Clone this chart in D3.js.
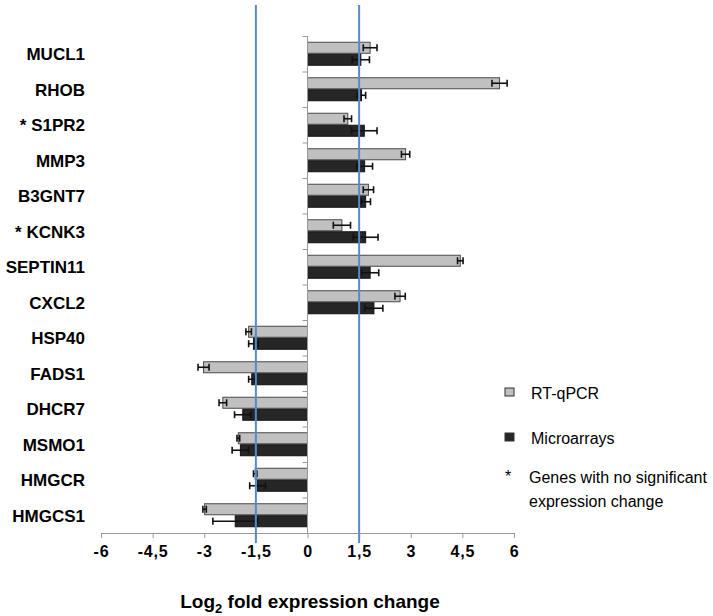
<!DOCTYPE html>
<html><head><meta charset="utf-8">
<script src="https://cdn.jsdelivr.net/npm/d3@7"></script>
<style>body{margin:0;background:#fff}svg{display:block}text{font-family:"Liberation Sans",Arial,sans-serif}</style>
</head><body>
<svg id="c" width="713" height="616"></svg>
<script>
const genes = ["MUCL1","RHOB","S1PR2","MMP3","B3GNT7","KCNK3","SEPTIN11","CXCL2","HSP40","FADS1","DHCR7","MSMO1","HMGCR","HMGCS1"];
const notSignificant = ["S1PR2","KCNK3"];
const rtqpcr = [1.82,5.58,1.17,2.85,1.77,1.0,4.44,2.69,-1.71,-3.02,-2.46,-2.01,-1.52,-2.99];
const rtqpcrErr = [0.2,0.22,0.11,0.12,0.15,0.25,0.08,0.15,0.08,0.16,0.11,0.04,0.05,0.05];
const micro = [1.55,1.57,1.65,1.66,1.69,1.69,1.82,1.93,-1.57,-1.62,-1.88,-1.95,-1.45,-2.1];
const microErr = [0.25,0.12,0.37,0.23,0.14,0.36,0.25,0.26,0.14,0.09,0.24,0.24,0.23,0.65];
const xTicks = [-6,-4.5,-3,-1.5,0,1.5,3,4.5,6];
const thresholds = [-1.5,1.5];
const seriesNames = ["RT-qPCR","Microarrays"];
const seriesFill = ["#c0c0c0","#262626"];

const svg = d3.select("#c");
const x = d3.scaleLinear().domain([-6,6]).range([101,514]);
const y = d3.scaleBand().domain(genes).range([36,533]);
const axisY = 533;

// bars
const barH = 11, gap = 1;
const off = (y.bandwidth() - (2*barH+gap))/2;
const series = [
  {vals: rtqpcr, errs: rtqpcrErr, fill: seriesFill[0], stroke:"#4a4a4a", dy: off},
  {vals: micro, errs: microErr, fill: seriesFill[1], stroke:"#111", dy: off+barH+gap}
];
series.forEach(s=>{
  const g = svg.append("g");
  genes.forEach((gname,i)=>{
    const v = s.vals[i];
    const yy = y(gname)+s.dy;
    g.append("rect").attr("x",Math.min(x(0),x(v))).attr("y",yy)
      .attr("width",Math.abs(x(v)-x(0))).attr("height",barH)
      .attr("fill",s.fill).attr("stroke",s.stroke).attr("stroke-width",1);
  });
});
// error bars
series.forEach(s=>{
  const g = svg.append("g").attr("stroke","#111").attr("stroke-width",1.6);
  genes.forEach((gname,i)=>{
    const v = s.vals[i], e = s.errs[i];
    const cy = y(gname)+s.dy+barH/2;
    const x1 = x(v-e), x2 = x(v+e);
    g.append("line").attr("x1",x1).attr("x2",x2).attr("y1",cy).attr("y2",cy);
    g.append("line").attr("x1",x1).attr("x2",x1).attr("y1",cy-3.5).attr("y2",cy+3.5);
    g.append("line").attr("x1",x2).attr("x2",x2).attr("y1",cy-3.5).attr("y2",cy+3.5);
  });
});

// y axis line and ticks at band boundaries
svg.append("line").attr("x1",x(0)).attr("x2",x(0)).attr("y1",36).attr("y2",axisY)
  .attr("stroke","#999").attr("stroke-width",1);
genes.forEach(gname=>{
  svg.append("line").attr("x1",x(0)-5).attr("x2",x(0)).attr("y1",y(gname)+0.5).attr("y2",y(gname)+0.5)
    .attr("stroke","#999");
});

// x axis
const xa = svg.append("g").attr("transform",`translate(0,${axisY})`)
  .call(d3.axisBottom(x).tickValues(xTicks).tickSize(5).tickPadding(8)
    .tickFormat(d=>String(d).replace(".",",")));
xa.select(".domain").attr("stroke","#999");
xa.selectAll(".tick line").attr("stroke","#999");
xa.selectAll(".tick text").attr("fill","#000").attr("font-size","16px").attr("font-weight","bold")
  .attr("letter-spacing","0.8px")
  .attr("font-family","'Liberation Sans',Arial,sans-serif");

// threshold lines
thresholds.forEach(t=>{
  svg.append("line").attr("x1",x(t)).attr("x2",x(t)).attr("y1",5).attr("y2",543)
    .attr("stroke","#5a8ac6").attr("stroke-width",2);
});

// gene labels
genes.forEach(gname=>{
  svg.append("text").attr("x",85).attr("y",y(gname)+y.bandwidth()/2+2)
    .attr("text-anchor","end").attr("dominant-baseline","middle")
    .attr("font-size","17px").attr("font-weight","bold").attr("fill","#000")
    .text((notSignificant.includes(gname)?"* ":"")+gname);
});

// axis title
const t = svg.append("text").attr("x",310).attr("y",608).attr("text-anchor","middle")
  .attr("font-size","19px").attr("font-weight","bold").attr("fill","#000");
t.append("tspan").text("Log");
t.append("tspan").attr("font-size","13px").attr("dy",5).text("2");
t.append("tspan").attr("dy",-5).text(" fold expression change");

// legend
const lg = svg.append("g");
[[0,392],[1,437]].forEach(([i,yy])=>{
  lg.append("rect").attr("x",505).attr("y",yy-4).attr("width",9).attr("height",8)
    .attr("fill",seriesFill[i]).attr("stroke","#333").attr("stroke-width",1);
  lg.append("text").attr("x",531).attr("y",yy+7).attr("font-size","16px").attr("fill","#000").text(seriesNames[i]);
});
lg.append("text").attr("x",505).attr("y",482).attr("font-size","16px").attr("fill","#000").text("*");
lg.append("text").attr("x",529).attr("y",483).attr("font-size","16px").attr("fill","#000").text("Genes with no significant");
lg.append("text").attr("x",529).attr("y",507).attr("font-size","16px").attr("fill","#000").text("expression change");
</script>
</body></html>
